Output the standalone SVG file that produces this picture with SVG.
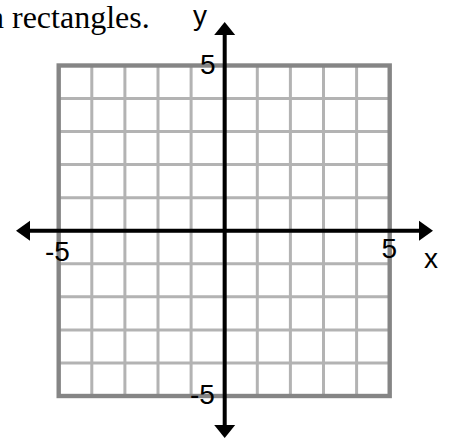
<svg xmlns="http://www.w3.org/2000/svg" width="455" height="439" viewBox="0 0 455 439">
<style>
.inner{stroke:#b3b3b3;stroke-width:3;fill:none}
.border{stroke:#858585;stroke-width:4.4;fill:none}
.axis{stroke:#000;stroke-width:4;fill:none}
.head{fill:#000}
.lbl{font-family:"Liberation Sans",Arial,sans-serif;font-size:28px;fill:#000}
.cap{font-family:"Liberation Serif","Times New Roman",serif;font-size:32px;fill:#000}
</style>
<rect width="455" height="439" fill="#fff"/>
<text class="cap" x="-12" y="28">n rectangles.</text>
<g id="grid">
<path class="inner" d="M91.8 65.5V396M124.9 65.5V396M158 65.5V396M191.1 65.5V396M224.2 65.5V396M257.3 65.5V396M290.4 65.5V396M323.5 65.5V396M356.6 65.5V396M58.7 98.5H389.7M58.7 131.6H389.7M58.7 164.6H389.7M58.7 197.7H389.7M58.7 230.7H389.7M58.7 263.8H389.7M58.7 296.8H389.7M58.7 329.9H389.7M58.7 362.9H389.7"/>
<rect class="border" x="58.7" y="65.5" width="331" height="330.5"/>
</g>
<g id="axes">
<path class="axis" d="M28 230.7H421M224.7 33V427"/>
<polygon class="head" points="16,230.7 30,220.7 30,240.7"/>
<polygon class="head" points="433,230.7 419,220.7 419,240.7"/>
<polygon class="head" points="224.7,22 214.2,35 235.2,35"/>
<polygon class="head" points="224.7,438 214.2,425 235.2,425"/>
</g>
<g id="labels">
<text class="lbl" x="193" y="25">y</text>
<text class="lbl" x="200" y="74">5</text>
<text class="lbl" x="45" y="261">-5</text>
<text class="lbl" x="381.5" y="258">5</text>
<text class="lbl" x="424" y="268">x</text>
<text class="lbl" x="190" y="404">-5</text>
</g>
</svg>
